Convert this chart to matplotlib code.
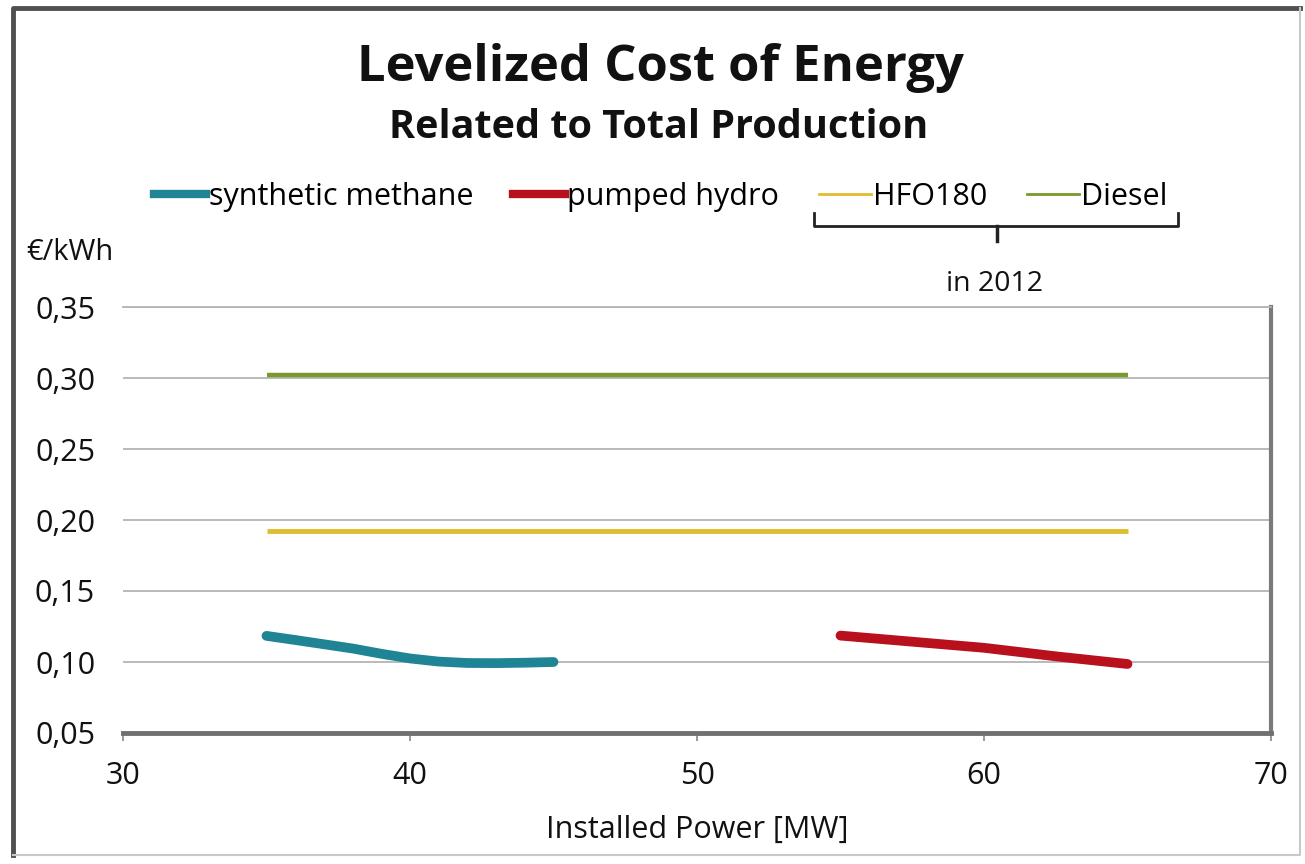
import matplotlib
matplotlib.use("Agg")
import matplotlib.pyplot as plt
from matplotlib.lines import Line2D

plt.rcParams['font.family'] = ['Open Sans', 'DejaVu Sans']

# ---- data ----
methane_x = [35, 36, 37, 38, 39, 40, 41, 42, 43, 44, 45]
methane_y = [0.1184, 0.1155, 0.1125, 0.1095, 0.1058, 0.1025, 0.1003, 0.0993, 0.0992, 0.0995, 0.1000]
hydro_x = [55, 57.5, 60, 62.5, 65]
hydro_y = [0.1186, 0.1143, 0.1100, 0.1040, 0.0986]
hfo_x = [35, 65]
hfo_y = [0.192, 0.192]
diesel_x = [35, 65]
diesel_y = [0.302, 0.302]

series_names = ["synthetic methane", "pumped hydro", "HFO180", "Diesel"]
colors = ["#1f8494", "#b8101c", "#e0bd2e", "#7b9a2c"]
widths = [7, 7, 3.5, 3.2]
legend_widths = [6, 6, 2, 2]

yticks = [0.05, 0.10, 0.15, 0.20, 0.25, 0.30, 0.35]
ytick_labels = ["0,05", "0,10", "0,15", "0,20", "0,25", "0,30", "0,35"]
xticks = [30, 40, 50, 60, 70]

W, H = 1305, 864
fig = plt.figure(figsize=(W / 100, H / 100), dpi=100)
fig.patch.set_facecolor("white")

ax = fig.add_axes([123 / W, 1 - 733 / H, (1271 - 123) / W, (733 - 307) / H])

ax.plot(diesel_x, diesel_y, color=colors[3], lw=widths[3], solid_capstyle="butt", zorder=3)
ax.plot(hfo_x, hfo_y, color=colors[2], lw=widths[2], solid_capstyle="butt", zorder=3)
ax.plot(methane_x, methane_y, color=colors[0], lw=widths[0], solid_capstyle="round", zorder=4)
ax.plot(hydro_x, hydro_y, color=colors[1], lw=widths[1], solid_capstyle="round", zorder=4)

ax.set_xlim(30, 70)
ax.set_ylim(0.05, 0.35)
ax.set_yticks(yticks)
ax.set_yticklabels(ytick_labels)
ax.set_xticks(xticks)
ax.grid(axis="y", color="#b4b4b4", lw=1.3, zorder=1)
ax.set_axisbelow(True)

ax.tick_params(axis="y", length=0, pad=20, labelsize=22, labelcolor="#111111")
ax.tick_params(axis="x", length=6, width=1.2, color="#888888", pad=14, labelsize=22, labelcolor="#111111")

ax.spines["left"].set_visible(False)
ax.spines["top"].set_color("#b4b4b4")
ax.spines["top"].set_linewidth(1.3)
ax.spines["right"].set_color("#7a7a7a")
ax.spines["right"].set_linewidth(3)
ax.spines["bottom"].set_color("#707070")
ax.spines["bottom"].set_linewidth(3.5)

ax.set_xlabel("Installed Power [MW]", fontsize=22, color="#111111", labelpad=17)

# titles
fig.text(660 / W, 1 - 68 / H, "Levelized Cost of Energy", ha="center", va="center",
         fontsize=36.5, fontweight="bold", color="#111111")
fig.text(659 / W, 1 - 127 / H, "Related to Total Production", ha="center", va="center",
         fontsize=28.5, fontweight="bold", color="#111111")

# y unit label
fig.text(26 / W, 1 - 252 / H, "€/kWh", ha="left", va="center", fontsize=21, color="#111111")

# legend
handles = [Line2D([], [], color=c, lw=w) for c, w in zip(colors, legend_widths)]
leg = fig.legend(handles, series_names, loc="center", bbox_to_anchor=(661 / W, 1 - 197 / H),
                 ncol=4, frameon=False, fontsize=22, handlelength=1.7, handletextpad=0.08,
                 columnspacing=1.3)

# brace under HFO180 / Diesel
bx0, bx1, by = 814 / W, 1178 / W, 1 - 226 / H
fig.add_artist(Line2D([bx0, bx0, bx1, bx1], [1 - 213 / H, by, by, 1 - 213 / H],
                      transform=fig.transFigure, color="#222222", lw=2))
fig.add_artist(Line2D([997 / W, 997 / W], [by, 1 - 241 / H],
                      transform=fig.transFigure, color="#222222", lw=2.5))
fig.text(995 / W, 1 - 284 / H, "in 2012", ha="center", va="center", fontsize=20.5, color="#111111")

# outer frame
fig.add_artist(Line2D([13 / W, 13 / W, 1300 / W], [1 - 855 / H, 1 - 8 / H, 1 - 8 / H],
                      transform=fig.transFigure, color="#505050", lw=3.5))
fig.add_artist(Line2D([13 / W, 1300 / W, 1300 / W], [1 - 855 / H, 1 - 855 / H, 1 - 8 / H],
                      transform=fig.transFigure, color="#c8c8c8", lw=1.5))

fig.savefig("out.png", dpi=100)
